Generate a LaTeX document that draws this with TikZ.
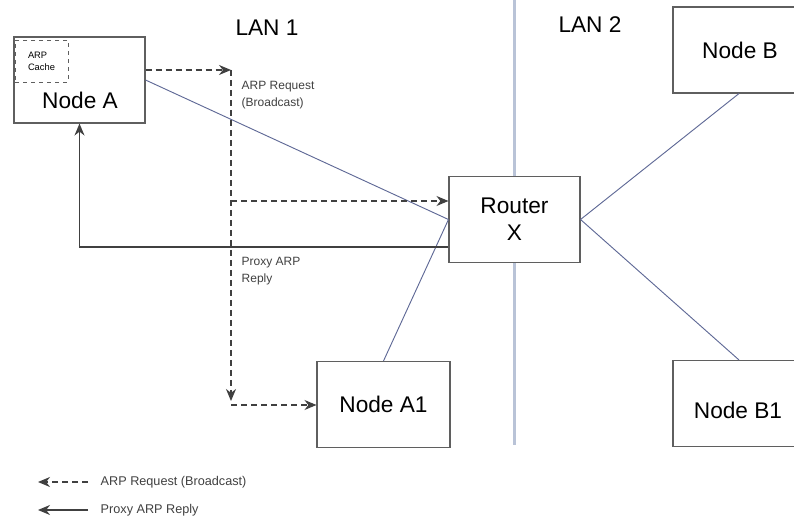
\documentclass[tikz,border=0pt]{standalone}
\usepackage{fontspec}
\setmainfont{Liberation Sans}
\usetikzlibrary{arrows.meta}
\definecolor{boxgray}{RGB}{95,95,95}
\definecolor{wire}{RGB}{95,105,150}
\definecolor{lanline}{RGB}{185,195,215}
\tikzset{
  box/.style={draw=boxgray, line width=0.8pt, minimum width={#1*0.75pt}, minimum height=64.5pt, inner sep=0pt},
  cachebox/.style={draw=boxgray, dashed, line width=0.7pt, minimum width=39.75pt, minimum height=31.5pt, inner sep=1pt, align=left, font=\fontsize{7}{9}\selectfont},
  wirestyle/.style={draw=wire, line width=0.7pt},
  req/.style={draw=black!75, dash pattern=on 4.5pt off 3pt, line width=0.9pt, -{Stealth[length=9pt,width=7.5pt]}},
  rep/.style={draw=black!75, line width=0.9pt, -{Stealth[length=9pt,width=7.5pt]}},
  big/.style={font=\fontsize{17}{20}\selectfont},
  small/.style={font=\fontsize{9}{13}\selectfont, align=left, text=black!75},
}
\begin{document}
\begin{tikzpicture}[x=0.75pt, y=-0.75pt]
\useasboundingbox (0,0) rectangle (794,524);
%-------------- LAN 1 --------------------
\node [box=131] (A) at (79.5,80) {};
\node [big] (Alabel) at (80,100) {Node A};
\node [cachebox] (cache) at (41.5,61) {ARP\\Cache};

\node [box=133] (A1) at (383.5,404.5) {};
\node [big] (A1label) at (383.5,404.5) {Node A1};

\node [big] (lan1) at (267,28) {LAN 1};
%--------------- Router ----------------------
\node [box=131, big, align=center] (R) at (514.5,219.5) {Router\\X};

\coordinate (ltop) at (514.5,0);
\coordinate (lbot) at (514.5,445);
\draw [lanline, line width=1.6pt] (ltop) -- (R.north);
\draw [lanline, line width=1.6pt] (R.south) -- (lbot);
%--------------- LAN 2 ----------------------
\node [box=132] (B) at (739,50) {};
\node [big] (Blabel) at (740,50) {Node B};

\node [box=132] (B1) at (739,403.5) {};
\node [big] (B1label) at (738,410) {Node B1};

\node [big] (lan2) at (590,25) {LAN 2};
%--------------- wires ----------------------
\draw [wirestyle] (A.east) -- (R.west);
\draw [wirestyle] (R.west) -- (A1.north);
\draw [wirestyle] (R.east) -- (B.south);
\draw [wirestyle] (R.east) -- (B1.north);
%--------------- ARP request ----------------------
\coordinate (q1) at (231,70);
\coordinate (q2) at (231,401);
\coordinate (q3) at (231,201);
\coordinate (q4) at (231,405);

\draw [req] (A.east |- q1) -- (q1);
\draw [req] (q1) -- (q2);
\draw [req] (q3) -- (R.west |- q3);
\draw [req] (q4) -- (A1.west |- q4);

\node [small, anchor=west] (reqlabel) at (237,95) {ARP Request\\(Broadcast)};
%--------------- Proxy ARP reply ----------------------
\coordinate (r1) at (0,247);
\draw [rep] (R.west |- r1) -| (A.south);

\node [small, anchor=west] (replabel) at (237,271) {Proxy ARP\\Reply};
%--------------- legend ----------------------
\coordinate (k1) at (88,482);
\coordinate (k2) at (38,482);
\coordinate (k3) at (88,510);
\coordinate (k4) at (38,510);

\draw [req] (k1) -- (k2);
\draw [rep] (k3) -- (k4);

\node [small, font=\fontsize{9.5}{11}\selectfont, anchor=west] (key1) at (96,482) {ARP Request (Broadcast)};
\node [small, font=\fontsize{9.5}{11}\selectfont, anchor=west] (key2) at (96,510) {Proxy ARP Reply};
\end{tikzpicture}
\end{document}
